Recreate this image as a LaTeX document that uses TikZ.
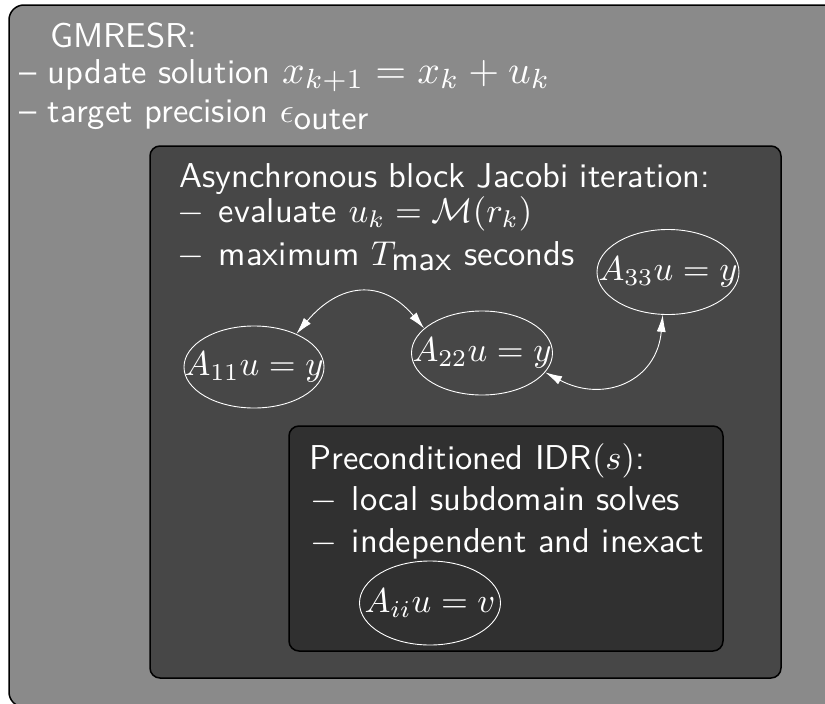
\documentclass[tikz,border=0pt]{standalone}
\usepackage{graphicx}
\usetikzlibrary{arrows.meta,shapes.geometric}
\definecolor{outerfill}{HTML}{8A8A8A}
\definecolor{midfill}{HTML}{474747}
\definecolor{innerfill}{HTML}{303030}
\newcommand{\mybig}[1]{\scalebox{3.45}{#1}}
\newcommand{\fs}[1]{{\textstyle #1}}
\begin{document}
\begin{tikzpicture}[x=1pt,y=1pt,
  txt/.style={anchor=base west, inner sep=0pt, text=white, font=\fontsize{10}{12}\selectfont\sffamily},
  eq/.style={ellipse, draw=white, line width=0.9pt, inner sep=0pt, text=white, font=\fontsize{10}{12}\selectfont},
  link/.style={draw=white, line width=0.9pt, {Latex[length=17pt,width=9pt]}-{Latex[length=17pt,width=9pt]}},
  panel/.style={draw=black, line width=1.5pt}]
\useasboundingbox (0,0) rectangle (825,-704);
\clip (0,0) rectangle (825,-704);
% panels
\draw[panel, fill=outerfill, rounded corners=15pt] (9,-5) rectangle (860,-707);
\draw[panel, fill=midfill, rounded corners=10pt] (150,-146) rectangle (781,-678);
\draw[panel, fill=innerfill, rounded corners=10pt] (289,-426) rectangle (723,-651);
% outer text
\node[txt] (t1) at (50,-47) {\mybig{GMRESR:}};
\node[txt] (t2) at (19,-83) {\mybig{-- update solution \scalebox{1.15}{$x_{k+1}=x_k+u_k$}}};
\node[txt] (t3) at (19,-122) {\mybig{-- target precision $\epsilon_{\fs{\mathsf{outer}}}$}};
% middle text
\node[txt] (m1) at (179,-187) {\mybig{Asynchronous block Jacobi iteration:}};
\node[txt] (m2) at (177,-222) {\mybig{$-$\hspace{0.1em} evaluate $u_k=\mathcal{M}(r_k)$}};
\node[txt] (m3) at (177,-265) {\mybig{$-$\hspace{0.1em} maximum $T_{\fs{\mathsf{max}}}$ seconds}};
% inner text
\node[txt] (i1) at (309,-469) {\mybig{Preconditioned IDR$(s)$:}};
\node[txt] (i2) at (310,-510) {\mybig{$-$\hspace{0.1em} local subdomain solves}};
\node[txt] (i3) at (310,-552) {\mybig{$-$\hspace{0.1em} independent and inexact}};
% ellipses
\node[eq, minimum width=140pt, minimum height=82pt] (A11) at (254,-367) {\makebox[0pt]{\mybig{$A_{11}u=y$}}};
\node[eq, minimum width=141pt, minimum height=84pt] (A22) at (482,-353) {\makebox[0pt]{\mybig{$A_{22}u=y$}}};
\node[eq, minimum width=142pt, minimum height=85pt] (A33) at (668,-272) {\makebox[0pt]{\mybig{$A_{33}u=y$}}};
\node[eq, minimum width=141pt, minimum height=84pt] (Aii) at (430,-603) {\makebox[0pt]{\mybig{$A_{ii}u=v$}}};
% connectors
\draw[link] (A11.38) to[out=50,in=130,looseness=1.32] (A22.157);
\draw[link] (A22.-17) to[out=-28,in=-95,looseness=1.3] (A33.-97);
\end{tikzpicture}
\end{document}
